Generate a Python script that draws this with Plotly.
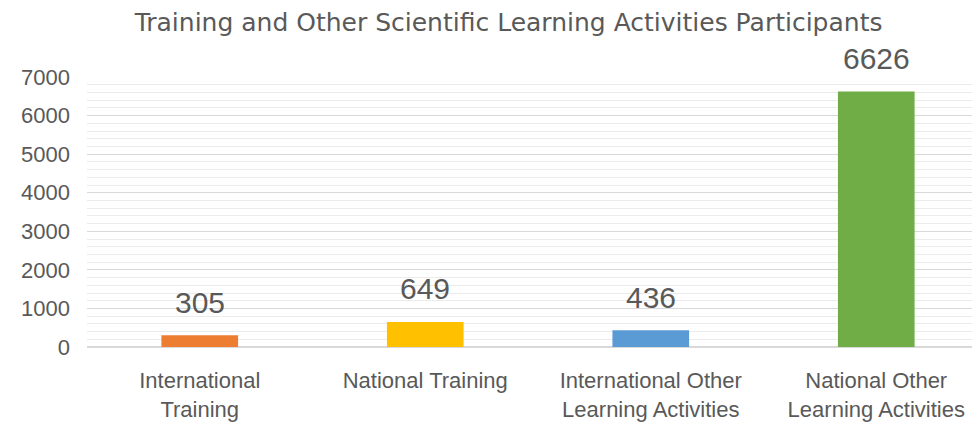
import plotly.graph_objects as go

categories = [
    "International<br>Training",
    "National Training",
    "International Other<br>Learning Activities",
    "National Other<br>Learning Activities",
]
participants = [305, 649, 436, 6626]
bar_colors = ["#ED7D31", "#FFC000", "#5B9BD5", "#70AD47"]

font_family = "Liberation Sans, Arial"
text_color = "#595959"

fig = go.Figure(go.Bar(
    x=categories,
    y=participants,
    marker=dict(color=bar_colors, line=dict(width=0)),
    width=0.34,
    hoverinfo="x+y",
))

# value labels above the bars
for cat, val in zip(categories, participants):
    fig.add_annotation(
        x=cat, y=val, text=str(val),
        showarrow=False, yanchor="middle", yshift=33,
        font=dict(size=30, color=text_color, family=font_family),
    )

# page body has an 8px default margin, so the figure is drawn 8px smaller
fig.update_layout(
    width=972,
    height=415,
    margin=dict(l=79, r=0, t=69, b=76),
    paper_bgcolor="white",
    plot_bgcolor="white",
    showlegend=False,
    title=dict(
        text="Training and Other Scientific Learning Activities Participants",
        x=0.515, xanchor="center", y=0.965, yanchor="middle",
        font=dict(size=25, color=text_color, family="DejaVu Sans"),
    ),
    xaxis=dict(
        range=[-0.5, 3.46],
        showgrid=False,
        showline=False,
        ticks="",
        ticklabelstandoff=18,
        tickfont=dict(size=22, color=text_color, family=font_family),
    ),
    yaxis=dict(
        range=[0, 7000],
        dtick=1000,
        showgrid=True,
        gridcolor="#D9D9D9",
        gridwidth=1,
        zeroline=True,
        zerolinecolor="#D9D9D9",
        ticks="",
        ticklabelstandoff=16,
        tickfont=dict(size=22, color=text_color, family=font_family),
        minor=dict(dtick=200, showgrid=True, gridcolor="#EBEBEB", gridwidth=1),
    ),
)

fig.write_html("out.html")
